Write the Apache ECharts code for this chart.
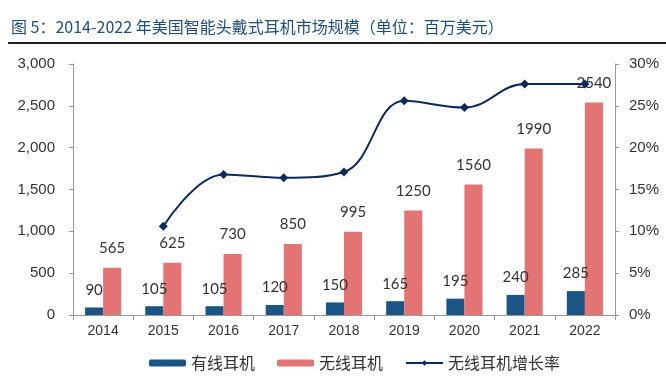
<!DOCTYPE html>
<html><head><meta charset="utf-8">
<script src="https://cdn.jsdelivr.net/npm/echarts@6/dist/echarts.min.js"></script>
<style>html,body{margin:0;padding:0;background:#fff}#c{width:666px;height:378px}</style>
</head><body><div id="c"></div>
<script>
const years = ['2014','2015','2016','2017','2018','2019','2020','2021','2022'];
const wired = [90,105,105,120,150,165,195,240,285];
const wireless = [565,625,730,850,995,1250,1560,1990,2540];
const growth = [null,10.6,16.8,16.4,17.1,25.6,24.8,27.6,27.6];
const leftTicks = {min:0,max:3000,interval:500};
const rightTicks = {min:0,max:30,interval:5};

const chart = echarts.init(document.getElementById('c'));
const lblFont = {fontFamily:'Lato, "Noto Sans", sans-serif',fontSize:15,color:'#333'};
chart.setOption({
  animation:false,
  title:{text:'图 5：2014-2022 年美国智能头戴式耳机市场规模（单位：百万美元）',left:6,top:14,
    textStyle:{fontFamily:'"Noto Sans CJK SC", sans-serif',fontSize:16,fontWeight:'normal',color:'#1F4E79'}},
  graphic:[{type:'rect',shape:{x:8,y:42,width:658,height:2},style:{fill:'#222'}}],
  legend:{bottom:2,left:144,itemWidth:37,itemHeight:7,itemGap:22,
    textStyle:{fontFamily:'"Noto Sans CJK SC", sans-serif',fontSize:16,color:'#333'},
    data:[{name:'有线耳机'},{name:'无线耳机'},{name:'无线耳机增长率'}]},
  grid:{left:73,right:51,top:64,bottom:63},
  xAxis:{type:'category',data:years,
    axisLine:{lineStyle:{color:'#999'}},axisTick:{show:true,length:5,lineStyle:{color:'#999'}},
    axisLabel:{fontFamily:'"Liberation Sans", Arial, sans-serif',fontSize:14,color:'#333',margin:9}},
  yAxis:[
    {type:'value',min:leftTicks.min,max:leftTicks.max,interval:leftTicks.interval,
     axisLine:{show:true,lineStyle:{color:'#999'}},axisTick:{show:true,length:4,lineStyle:{color:'#999'}},
     splitLine:{show:false},
     axisLabel:{fontFamily:'"Liberation Sans", Arial, sans-serif',fontSize:15,color:'#333',margin:18,
       formatter:v=>v.toLocaleString('en-US')}},
    {type:'value',min:rightTicks.min,max:rightTicks.max,interval:rightTicks.interval,
     axisLine:{show:true,lineStyle:{color:'#999'}},axisTick:{show:true,length:4,lineStyle:{color:'#999'}},
     splitLine:{show:false},
     axisLabel:{fontFamily:'"Liberation Sans", Arial, sans-serif',fontSize:15,color:'#333',margin:14,
       formatter:v=>v+'%'}}
  ],
  series:[
    {name:'有线耳机',type:'bar',data:wired,barGap:'0%',barCategoryGap:'40%',
     itemStyle:{color:'#1B5584'},
     label:{show:true,position:'top',distance:10,...lblFont}},
    {name:'无线耳机',type:'bar',data:wireless,
     itemStyle:{color:'#E47474'},
     label:{show:true,position:'top',distance:12,...lblFont}},
    {name:'无线耳机增长率',type:'line',yAxisIndex:1,data:growth,smooth:0.4,
     symbol:'diamond',symbolSize:9,
     lineStyle:{color:'#0E2A5C',width:2},itemStyle:{color:'#0E2A5C'},z:5}
  ]
});
</script></body></html>
